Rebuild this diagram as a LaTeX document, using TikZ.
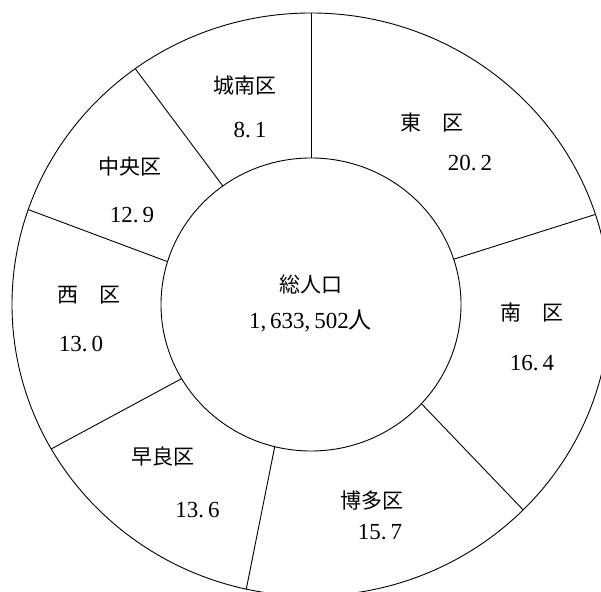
\documentclass[tikz,border=0pt]{standalone}
\usepackage{fontspec}
\setmainfont{Liberation Serif}
\newfontfamily\jpfont{Noto Sans CJK JP}
\usetikzlibrary{positioning,calc}

\begin{document}
\begin{tikzpicture}[x=1pt, y=1pt, %
        ring/.style={draw, line width=0.9pt},
        ku/.style={font=\jpfont\fontsize{21}{24}\selectfont, inner sep=0pt},
        val/.style={font=\fontsize{23}{26}\selectfont, inner sep=0pt}
        ]
        \useasboundingbox (0,0) rectangle (601,591);
        \clip (0,0) rectangle (601,591);
        \coordinate (c) at (311,286.5);
        \draw[ring] (c) ellipse [x radius=299, y radius=291.5];
        \draw[ring] (c) ellipse [x radius=150, y radius=146.5];
        % dividing lines: inner angle / outer angle
        \foreach \a/\b in {90/90, 18/18, -42.6/-44.8, -104/-102.5, 210.4/209.7, 163/161, 126/126}
          \draw[ring] ($(c)+(\a:150 and 146.5)$) -- ($(c)+(\b:299 and 291.5)$);
        \node[ku]  (joonan)  at (244.5,505) {城南区};
        \node[val] (joonanv) at (250,461) {8.\,1};
        \node[ku]  (chuo)    at (129.5,424) {中央区};
        \node[val] (chuov)   at (132,376) {12.\,9};
        \node[ku]  (nishi)   at (88.5,296) {西　区};
        \node[val] (nishiv)  at (81,247) {13.\,0};
        \node[ku]  (sawara)  at (163,134) {早良区};
        \node[val] (sawarav) at (197.5,81) {13.\,6};
        \node[ku]  (hakata)  at (372,90) {博多区};
        \node[val] (hakatav) at (380,59) {15.\,7};
        \node[ku]  (minami)  at (532,278) {南　区};
        \node[val] (minamiv) at (532,228) {16.\,4};
        \node[ku]  (higashi) at (432,468) {東　区};
        \node[val] (higashiv) at (470,428) {20.\,2};
        \node[ku]  (total)   at (310.5,306) {総人口};
        \node[val] (totalv)  at (310.5,270) {1,\,633,\,502{\jpfont 人}};
      \end{tikzpicture}
\end{document}
